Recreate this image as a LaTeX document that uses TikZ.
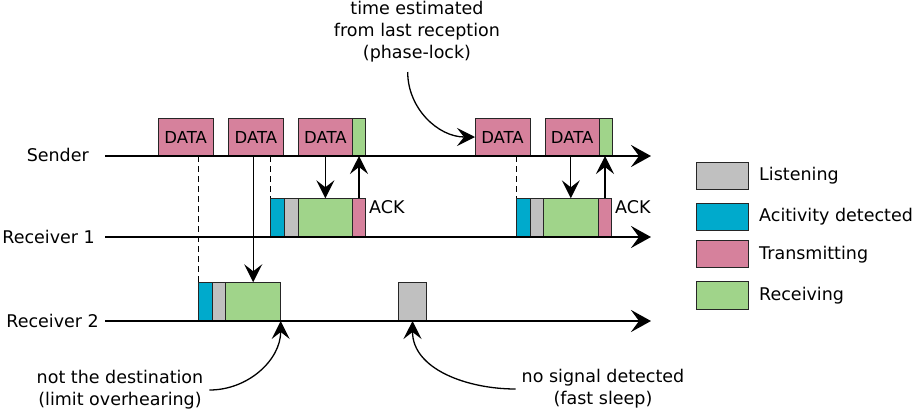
\documentclass[tikz,border=0pt]{standalone}
\usepackage{fontspec}
\setmainfont{DejaVu Sans}
\usetikzlibrary{arrows.meta}
\definecolor{cpink}{RGB}{214,129,156}
\definecolor{ccyan}{RGB}{0,170,204}
\definecolor{cgray}{RGB}{192,192,192}
\definecolor{cgreen}{RGB}{160,212,138}
\begin{document}
\begin{tikzpicture}[x=1pt,y=-1pt,
  blk/.style={draw=black!85,line width=0.9pt,inner sep=0pt,outer sep=0pt,anchor=south west},
  axis/.style={line width=2.8pt,-{Stealth[length=20pt,width=22pt,inset=8pt]}},
  arr/.style={line width=1.3pt,-{Stealth[length=18pt,width=18pt,inset=7pt]}},
  dsh/.style={line width=1pt,dash pattern=on 6pt off 4pt},
  lbl/.style={font=\fontsize{17.5}{20}\selectfont,inner sep=0pt},
  dtxt/.style={font=\fontsize{16.5}{18}\selectfont},
  note/.style={font=\fontsize{17.5}{22}\selectfont,align=center,inner sep=0pt}]
\useasboundingbox (0,0) rectangle (913,410);
% axes
\coordinate (s0) at (105,156); \coordinate (s1) at (651,156);
\coordinate (a0) at (105,237); \coordinate (a1) at (651,237);
\coordinate (b0) at (105,321); \coordinate (b1) at (651,321);
\node[lbl,anchor=east] (ls) at (89,155) {Sender};
\node[lbl,anchor=east] (la) at (95,237) {Receiver 1};
\node[lbl,anchor=east] (lb) at (99,321) {Receiver 2};
% sender blocks
\node[blk,fill=cpink,minimum width=54.7pt,minimum height=38pt,dtxt] (d1) at (158.3,156) {DATA};
\node[blk,fill=cpink,minimum width=54.6pt,minimum height=38pt,dtxt] (d2) at (228.7,156) {DATA};
\node[blk,fill=cpink,minimum width=54.7pt,minimum height=38pt,dtxt] (d3) at (298,156) {DATA};
\node[blk,fill=cgreen,minimum width=12.6pt,minimum height=38pt] (g3) at (352.7,156) {};
\node[blk,fill=cpink,minimum width=55pt,minimum height=38pt,dtxt] (d4) at (475,156) {DATA};
\node[blk,fill=cpink,minimum width=54.3pt,minimum height=38pt,dtxt] (d5) at (545,156) {DATA};
\node[blk,fill=cgreen,minimum width=13pt,minimum height=38pt] (g5) at (599.3,156) {};
% receiver 1 blocks
\node[blk,fill=ccyan,minimum width=14pt,minimum height=38.7pt] (r1c) at (270.7,237) {};
\node[blk,fill=cgray,minimum width=13.3pt,minimum height=38.7pt] (r1y) at (284.7,237) {};
\node[blk,fill=cgreen,minimum width=54.7pt,minimum height=38.7pt] (r1g) at (298,237) {};
\node[blk,fill=cpink,minimum width=12.6pt,minimum height=38.7pt] (r1p) at (352.7,237) {};
\node[blk,fill=ccyan,minimum width=13.3pt,minimum height=38.7pt] (r3c) at (516.7,237) {};
\node[blk,fill=cgray,minimum width=13.3pt,minimum height=38.7pt] (r3y) at (530,237) {};
\node[blk,fill=cgreen,minimum width=55pt,minimum height=38.7pt] (r3g) at (543.3,237) {};
\node[blk,fill=cpink,minimum width=13.4pt,minimum height=38.7pt] (r3p) at (598.3,237) {};
\node[lbl,anchor=west] (ack1) at (369,207) {ACK};
\node[lbl,anchor=west] (ack2) at (615,207) {ACK};
% receiver 2 blocks
\node[blk,fill=ccyan,minimum width=14pt,minimum height=38.7pt] (r2c) at (198.3,321) {};
\node[blk,fill=cgray,minimum width=13.4pt,minimum height=38.7pt] (r2y) at (212.3,321) {};
\node[blk,fill=cgreen,minimum width=55pt,minimum height=38.7pt] (r2g) at (225.7,321) {};
\node[blk,fill=cgray,minimum width=28.4pt,minimum height=38.7pt] (r2s) at (398.3,321) {};
% axes drawn
\draw[axis] (s0) -- (s1);
\draw[axis] (a0) -- (a1);
\draw[axis] (b0) -- (b1);
% connectors
\draw[dsh] (r2c.north west |- d1.south) -- (r2c.north west);
\draw[dsh] (r1c.north west |- d1.south) -- (r1c.north west);
\draw[dsh] (r3c.north west |- d1.south) -- (r3c.north west);
\draw[arr] (r2g.north |- d2.south) -- (r2g.north);
\draw[arr] (r1g.north |- d3.south) -- (r1g.north);
\draw[arr] (r1p.north) -- (r1p.north |- d3.south);
\draw[arr] (r3g.north |- d5.south) -- (r3g.north);
\draw[arr] (r3p.north) -- (r3p.north |- d5.south);
% notes
\node[note] (te) at (417,32) {time estimated\\from last reception\\(phase-lock)};
\coordinate (tes) at (407.7,72);
\draw[arr] (tes) to[out=-90,in=180] (d4.west);
\node[note] (nd) at (120,390) {not the destination\\(limit overhearing)};
\draw[arr] ([xshift=6pt]nd.east) to[out=0,in=-90] (r2g.south east);
\node[note] (ns) at (603,389) {no signal detected\\(fast sleep)};
\draw[arr] ([xshift=-6pt]ns.west) to[out=180,in=-90] (r2s.south);
% legend
\node[blk,fill=cgray,minimum width=51.6pt,minimum height=27pt] (k1) at (696.7,189.3) {};
\node[blk,fill=ccyan,minimum width=51.6pt,minimum height=27.4pt] (k2) at (696.7,230.7) {};
\node[blk,fill=cpink,minimum width=51.6pt,minimum height=27pt] (k3) at (696.7,267.7) {};
\node[blk,fill=cgreen,minimum width=51.6pt,minimum height=27.3pt] (k4) at (696.7,309) {};
\node[lbl,anchor=west] (t1) at (759,176) {Listening};
\node[lbl,anchor=west] (t2) at (759,217) {Acitivity detected};
\node[lbl,anchor=west] (t3) at (759,255) {Transmitting};
\node[lbl,anchor=west] (t4) at (759,296) {Receiving};
\end{tikzpicture}
\end{document}
